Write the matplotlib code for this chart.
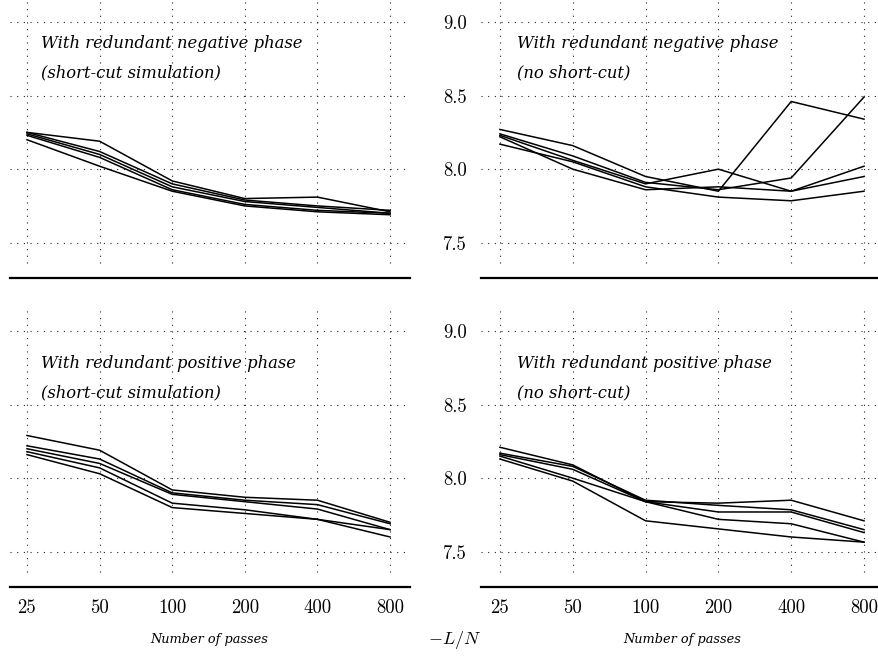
import matplotlib
matplotlib.use("Agg")
import matplotlib.pyplot as plt
import numpy as np

matplotlib.rcParams.update(
    {
        "mathtext.fontset": "cm",
        "figure.facecolor": "white",
        "axes.facecolor": "white",
    }
)

# number of passes (x axis, log spaced)
passes = [25, 50, 100, 200, 400, 800]
yticks = [7.5, 8.0, 8.5, 9.0]

# -L/N per run
neg_shortcut = [
    [8.25, 8.19, 7.92, 7.80, 7.81, 7.71],
    [8.25, 8.12, 7.90, 7.79, 7.75, 7.72],
    [8.24, 8.10, 7.88, 7.78, 7.74, 7.70],
    [8.23, 8.08, 7.86, 7.76, 7.72, 7.70],
    [8.20, 8.02, 7.85, 7.75, 7.71, 7.69],
]
neg_noshortcut = [
    [8.27, 8.16, 7.95, 7.85, 8.46, 8.34],
    [8.24, 8.09, 7.91, 7.86, 7.94, 8.49],
    [8.23, 8.06, 7.90, 8.00, 7.85, 7.95],
    [8.22, 8.00, 7.86, 7.88, 7.85, 8.02],
    [8.17, 8.05, 7.88, 7.81, 7.785, 7.85],
]
pos_shortcut = [
    [8.29, 8.19, 7.92, 7.87, 7.85, 7.70],
    [8.22, 8.13, 7.90, 7.85, 7.82, 7.69],
    [8.20, 8.10, 7.89, 7.84, 7.79, 7.65],
    [8.18, 8.07, 7.83, 7.785, 7.72, 7.65],
    [8.16, 8.03, 7.80, 7.76, 7.72, 7.60],
]
pos_noshortcut = [
    [8.21, 8.09, 7.84, 7.83, 7.85, 7.71],
    [8.17, 8.08, 7.85, 7.815, 7.785, 7.65],
    [8.16, 8.06, 7.84, 7.77, 7.77, 7.63],
    [8.15, 8.00, 7.84, 7.72, 7.69, 7.565],
    [8.13, 7.98, 7.71, 7.655, 7.60, 7.565],
]

panels = [
    (neg_shortcut, "With redundant negative phase", "(short-cut simulation)"),
    (neg_noshortcut, "With redundant negative phase", "(no short-cut)"),
    (pos_shortcut, "With redundant positive phase", "(short-cut simulation)"),
    (pos_noshortcut, "With redundant positive phase", "(no short-cut)"),
]

W, H = 879, 656
fig = plt.figure(figsize=(W / 100, H / 100), dpi=100)

# axes rectangles in pixels: (left, top, right, bottom)
rects = [
    (10, 0, 410, 278),
    (481, 0, 879, 278),
    (10, 309, 410, 587),
    (481, 309, 879, 587),
]
# x limits in octaves relative to 25 / 800
xpad = [(-0.234, 0.275), (-0.26, 0.206)]
text_y = [(44, 73), (44, 73), (55, 84), (55, 84)]
text_x = [41, 517]

num_font = dict(family="cmr10", size=13.5)
it_font = dict(family="DejaVu Serif", style="italic", size=11.8)
lab_font = dict(family="DejaVu Serif", style="italic", size=9.3)
dot = (0, (1, 5))

for i, (runs, line1, line2) in enumerate(panels):
    l, t, r, b = rects[i]
    ax = fig.add_axes([l / W, 1 - b / H, (r - l) / W, (b - t) / H])
    col = i % 2
    ax.set_xscale("log", base=2)
    lo, hi = xpad[col]
    ax.set_xlim(25 * 2**lo, 800 * 2**hi)
    ax.set_ylim(7.26, 9.15)

    for yv in yticks:
        ax.axhline(yv, color="#222222", lw=0.8, ls=dot, zorder=1)
    ax.vlines(passes, 7.36, 9.15, color="#222222", lw=0.8, ls=dot, zorder=1)

    for run in runs:
        ax.plot(passes, run, color="black", lw=1.1, zorder=3)

    for s in ["top", "right", "left"]:
        ax.spines[s].set_visible(False)
    ax.spines["bottom"].set_linewidth(1.6)

    ax.xaxis.set_minor_locator(matplotlib.ticker.NullLocator())
    ax.set_xticks(passes)
    if i >= 2:
        ax.set_xticklabels([str(p) for p in passes], fontdict=num_font)
    else:
        ax.set_xticklabels([])
    ax.tick_params(axis="x", length=0, pad=9)

    ax.set_yticks(yticks)
    if col == 1:
        ax.set_yticklabels([f"{v:.1f}" for v in yticks], fontdict=num_font)
    else:
        ax.set_yticklabels([])
    ax.tick_params(axis="y", length=0, pad=10)

    ph = b - t
    ax.text((text_x[col] - l) / (r - l), 1 - text_y[i][0] / ph, line1,
            transform=ax.transAxes, ha="left", va="center", **it_font)
    ax.text((text_x[col] - l) / (r - l), 1 - text_y[i][1] / ph, line2,
            transform=ax.transAxes, ha="left", va="center", **it_font)

fig.text(209 / W, 1 - 640 / H, "Number of passes", ha="center", va="center", **lab_font)
fig.text(682 / W, 1 - 640 / H, "Number of passes", ha="center", va="center", **lab_font)
fig.text(455 / W, 1 - 640 / H, r"$-L/N$", ha="center", va="center", fontsize=13)

fig.savefig("out.png", dpi=100)
